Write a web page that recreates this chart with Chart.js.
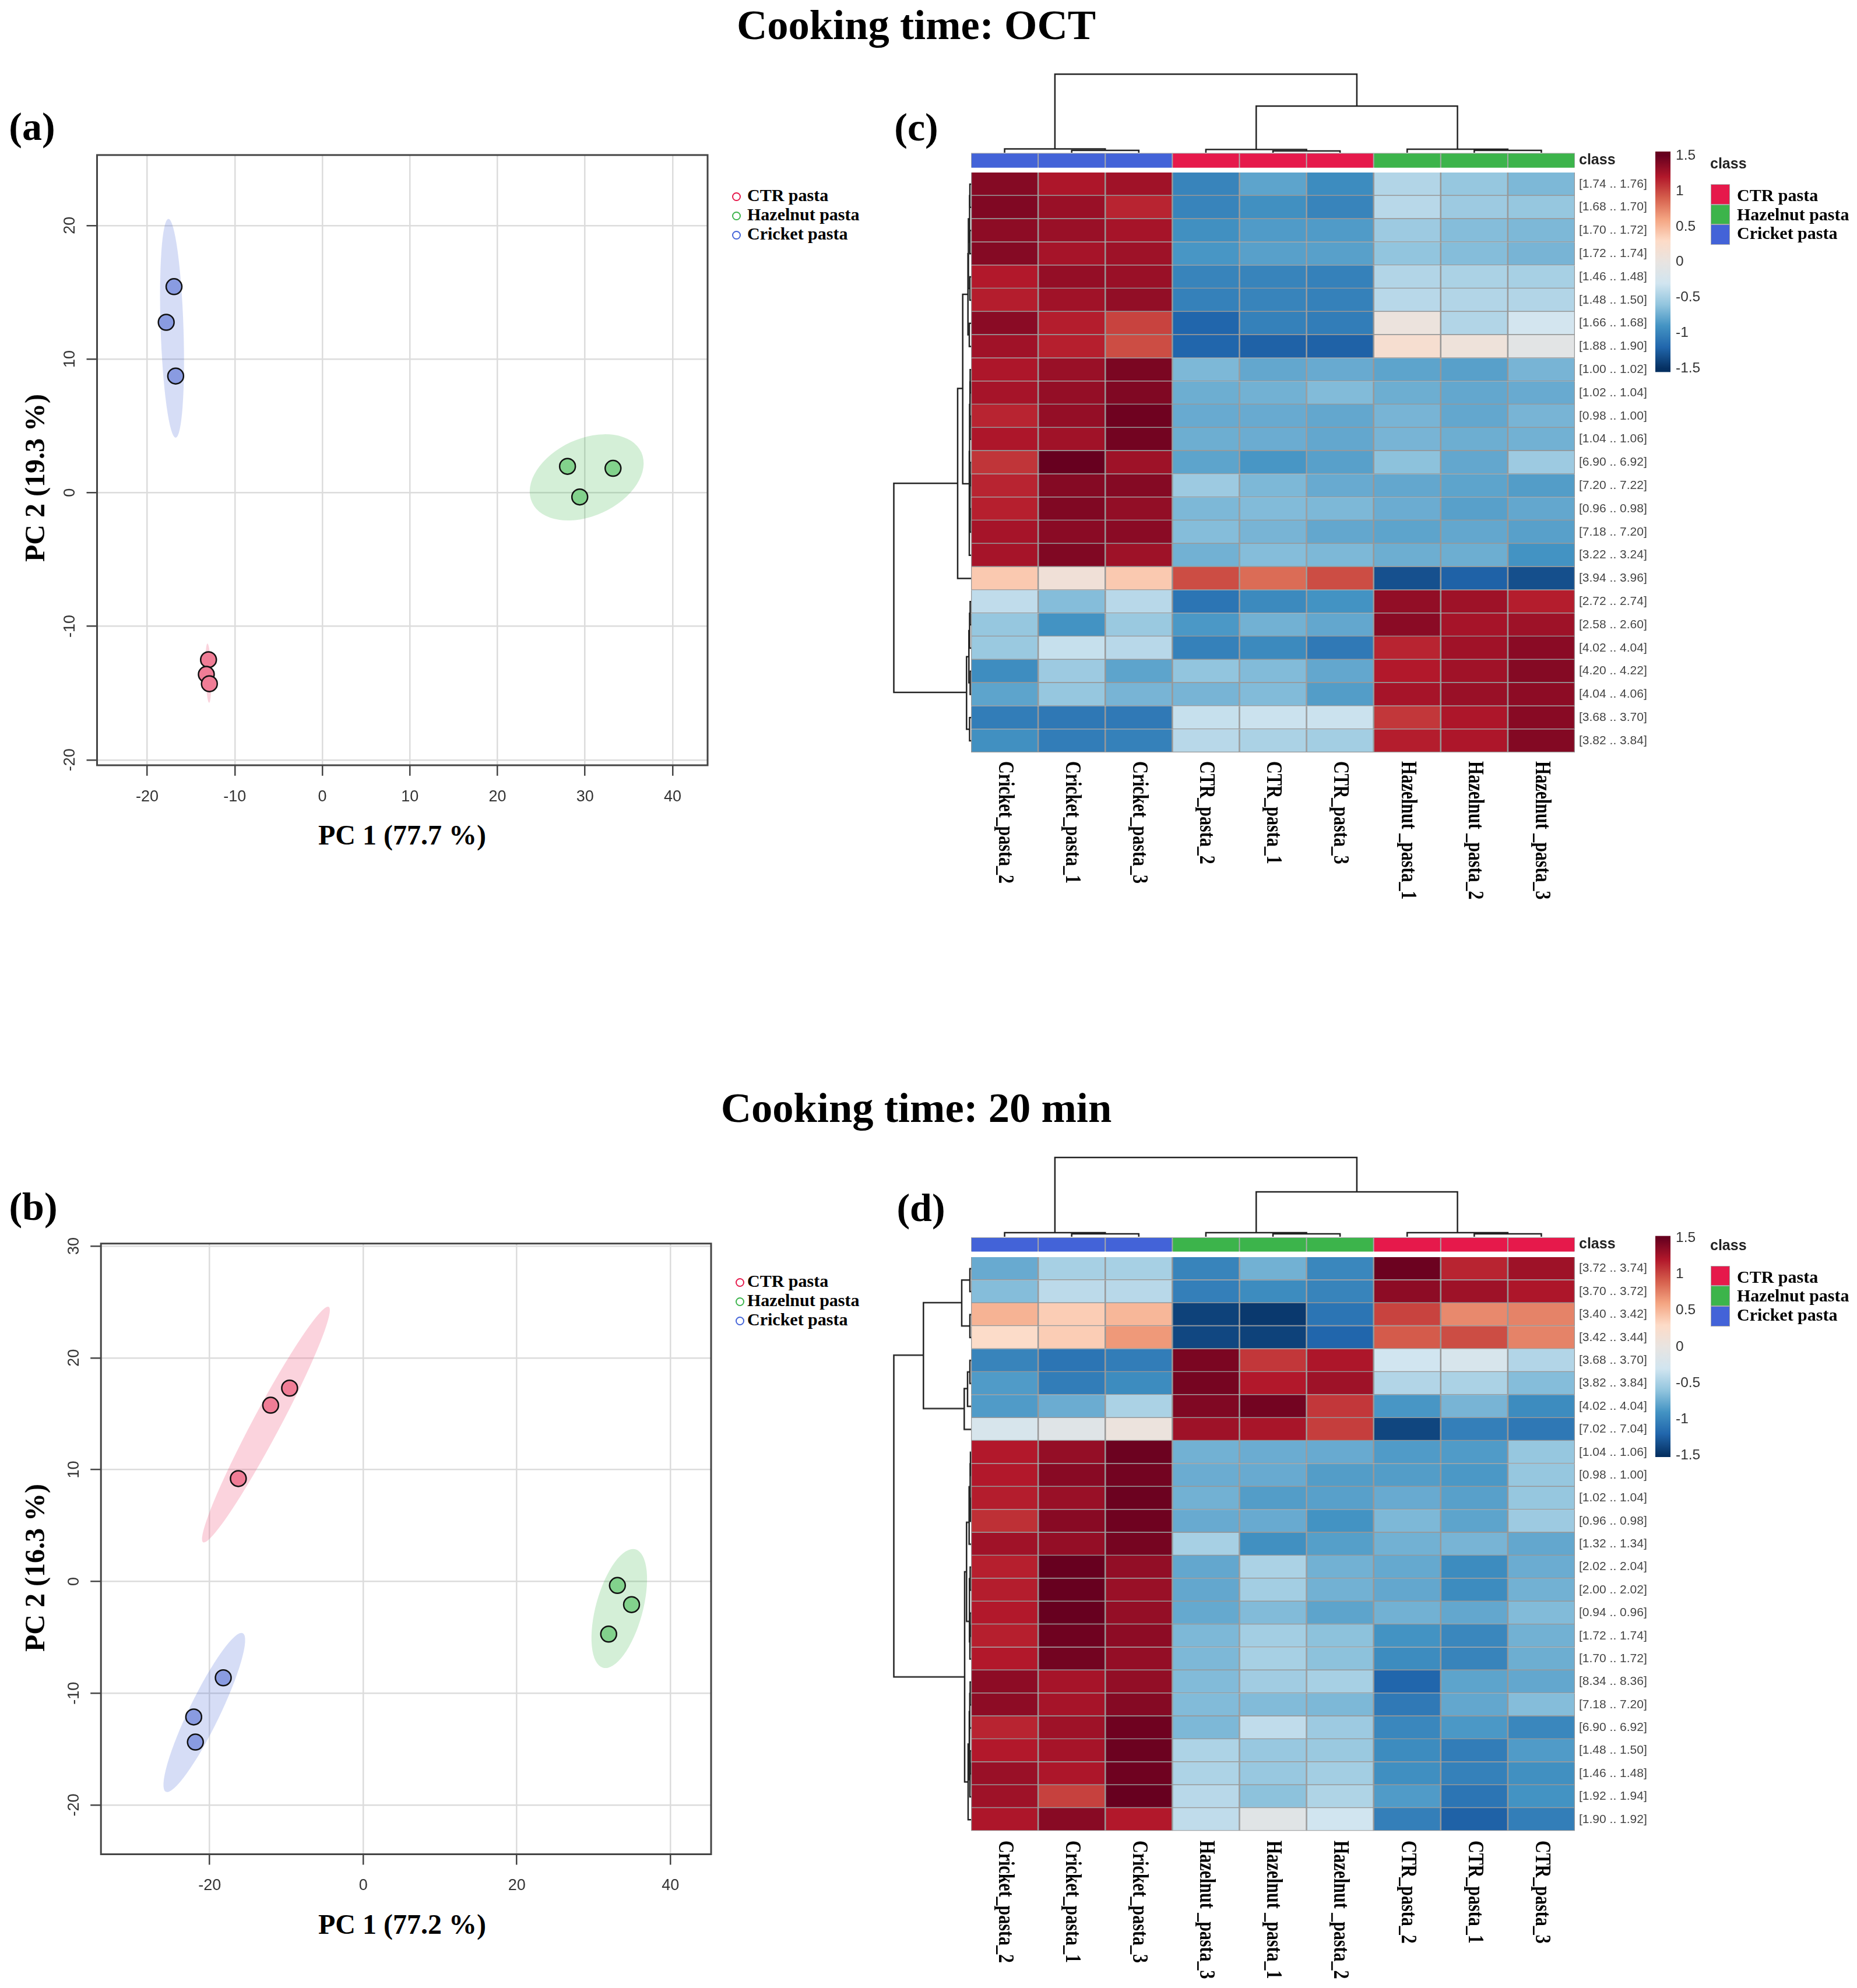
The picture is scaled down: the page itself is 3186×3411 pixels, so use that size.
<!DOCTYPE html>
<html>
<head>
<meta charset="utf-8">
<title>Cooking time heatmaps and PCA</title>
<script src="https://cdn.jsdelivr.net/npm/chart.js@4"></script>
<style>
  html, body { margin: 0; padding: 0; background: #fff; }
  body { position: relative; width: 3186px; height: 3411px; overflow: hidden; }
  canvas { position: absolute; }
  .t { position: absolute; white-space: nowrap; color: #000; font-family: "Liberation Serif", serif; font-weight: bold; line-height: 1; }
  .mid { transform: translate(-50%, -50%); }
  .left { transform: translateY(-50%); }
  .rot { transform: translate(-50%, -50%) rotate(-90deg); }
  .swatch { position: absolute; }
  .ring { position: absolute; border-radius: 50%; box-sizing: border-box; border-width: 2.5px; border-style: solid; background: #fff; }
</style>
</head>
<body>
<script>
// PCA scores, panel a (OCT)
const aCtr = [[-13.0, -12.5], [-13.25, -13.6], [-12.9, -14.3]];
const aHaz = [[28.0, 1.97], [33.2, 1.82], [29.4, -0.32]];
const aCri = [[-16.94, 15.42], [-17.83, 12.75], [-16.75, 8.73]];
// ellipses: major axis end, other major axis end, minor axis end
const aCtrEll = [-13.12, -11.29, -12.93, -15.72, -12.7, -13.5];
const aHazEll = [36.43, 3.02, 23.95, -0.73, 32.36, -1.37];
const aCriEll = [-17.58, 20.49, -16.75, 4.11, -15.86, 12.3];
const aXTicks = [-20, -10, 0, 10, 20, 30, 40];
const aYTicks = [-20, -10, 0, 10, 20];

// PCA scores, panel b (20 min)
const bCtr = [[-9.59, 17.29], [-12.06, 15.76], [-16.27, 9.2]];
const bHaz = [[33.1, -0.36], [34.94, -2.07], [31.96, -4.71]];
const bCri = [[-18.23, -8.62], [-22.08, -12.12], [-21.86, -14.37]];
const bCtrEll = [-4.5, 24.56, -20.85, 3.5, -11.04, 13.56];
const bHazEll = [35.45, 2.87, 31.23, -7.72, 36.32, -2.87];
const bCriEll = [-15.69, -4.63, -25.71, -18.81, -18.84, -12.21];
const bXTicks = [-20, 0, 20, 40];
const bYTicks = [-20, -10, 0, 10, 20, 30];

const groupNames = ['CTR pasta', 'Hazelnut pasta', 'Cricket pasta'];

// heatmap c
const cCols = ['Cricket_pasta_2', 'Cricket_pasta_1', 'Cricket_pasta_3', 'CTR_pasta_2', 'CTR_pasta_1', 'CTR_pasta_3', 'Hazelnut _pasta_1', 'Hazelnut _pasta_2', 'Hazelnut _pasta_3'];
const cClasses = [2, 2, 2, 0, 0, 0, 1, 1, 1];
const cRows = ['[1.74 .. 1.76]', '[1.68 .. 1.70]', '[1.70 .. 1.72]', '[1.72 .. 1.74]', '[1.46 .. 1.48]', '[1.48 .. 1.50]', '[1.66 .. 1.68]', '[1.88 .. 1.90]', '[1.00 .. 1.02]', '[1.02 .. 1.04]', '[0.98 .. 1.00]', '[1.04 .. 1.06]', '[6.90 .. 6.92]', '[7.20 .. 7.22]', '[0.96 .. 0.98]', '[7.18 .. 7.20]', '[3.22 .. 3.24]', '[3.94 .. 3.96]', '[2.72 .. 2.74]', '[2.58 .. 2.60]', '[4.02 .. 4.04]', '[4.20 .. 4.22]', '[4.04 .. 4.06]', '[3.68 .. 3.70]', '[3.82 .. 3.84]'];
const cValues = [
  [1.38, 1.22, 1.27, -1.0, -0.8, -0.95, -0.45, -0.58, -0.68],
  [1.40, 1.30, 1.15, -1.0, -0.92, -1.0, -0.42, -0.55, -0.58],
  [1.35, 1.30, 1.25, -0.92, -0.85, -0.85, -0.55, -0.65, -0.68],
  [1.38, 1.25, 1.28, -0.88, -0.82, -0.82, -0.6, -0.65, -0.7],
  [1.2, 1.32, 1.3, -1.0, -1.0, -1.02, -0.45, -0.48, -0.5],
  [1.18, 1.27, 1.33, -1.02, -1.0, -1.02, -0.42, -0.45, -0.45],
  [1.36, 1.18, 1.02, -1.2, -1.02, -1.05, 0.05, -0.45, -0.28],
  [1.27, 1.17, 0.98, -1.2, -1.22, -1.22, 0.2, 0.08, -0.08],
  [1.22, 1.3, 1.42, -0.68, -0.78, -0.76, -0.8, -0.82, -0.7],
  [1.25, 1.32, 1.4, -0.74, -0.72, -0.66, -0.74, -0.78, -0.76],
  [1.15, 1.32, 1.47, -0.76, -0.76, -0.78, -0.7, -0.78, -0.7],
  [1.22, 1.27, 1.45, -0.74, -0.75, -0.78, -0.7, -0.74, -0.72],
  [1.08, 1.5, 1.28, -0.8, -0.88, -0.82, -0.62, -0.78, -0.55],
  [1.15, 1.38, 1.38, -0.55, -0.68, -0.76, -0.78, -0.8, -0.84],
  [1.17, 1.4, 1.33, -0.68, -0.66, -0.68, -0.75, -0.82, -0.78],
  [1.25, 1.36, 1.36, -0.65, -0.7, -0.78, -0.8, -0.78, -0.82],
  [1.25, 1.4, 1.28, -0.72, -0.65, -0.68, -0.74, -0.74, -0.9],
  [0.4, 0.12, 0.4, 0.98, 0.85, 0.98, -1.32, -1.22, -1.33],
  [-0.38, -0.65, -0.42, -1.1, -0.96, -0.9, 1.33, 1.28, 1.18],
  [-0.58, -0.9, -0.56, -0.87, -0.72, -0.78, 1.36, 1.25, 1.28],
  [-0.56, -0.35, -0.42, -1.02, -0.96, -1.07, 1.15, 1.27, 1.36],
  [-0.94, -0.55, -0.8, -0.6, -0.66, -0.78, 1.2, 1.27, 1.38],
  [-0.8, -0.58, -0.7, -0.7, -0.66, -0.84, 1.25, 1.3, 1.35],
  [-1.05, -1.08, -1.07, -0.35, -0.33, -0.33, 1.07, 1.22, 1.37],
  [-0.92, -1.05, -1.02, -0.42, -0.48, -0.52, 1.18, 1.22, 1.39]
];
// dendrogram merges: pos1, height1, pos2, height2, merge height
const cTopMerges = [[1.5, 0, 2.5, 0, 4], [0.5, 0, 2, 4, 6.5], [4.5, 0, 5.5, 0, 3], [3.5, 0, 5, 3, 5.5], [7.5, 0, 8.5, 0, 4], [6.5, 0, 8, 4, 6], [4.25, 5.5, 7.25, 6, 80], [1.25, 6.5, 5.75, 80, 134.7]];
const cLeftMerges = [
  [0.5, 0, 1.5, 0, 2], [2.5, 0, 3.5, 0, 2], [1, 2, 3, 2, 2.5], [4.5, 0, 5.5, 0, 2], [2, 2.5, 5, 2, 4.5], [6.5, 0, 7.5, 0, 3], [3.5, 4.5, 7, 3, 5.3],
  [8.5, 0, 9.5, 0, 1.5], [10.5, 0, 11.5, 0, 1.5], [9, 1.5, 11, 1.5, 2], [12.5, 0, 13.5, 0, 1.5], [14.5, 0, 15.5, 0, 1.5], [13, 1.5, 15, 1.5, 2], [10, 2, 14, 2, 2.5], [12, 2.5, 16.5, 0, 3],
  [5.25, 5.3, 13.42, 3, 14.3], [9.31, 14.3, 17.5, 0, 23],
  [18.5, 0, 19.5, 0, 1.5], [19, 1.5, 20.5, 0, 2.5], [21.5, 0, 22.5, 0, 1.5], [19.75, 2.5, 22, 1.5, 3.7], [23.5, 0, 24.5, 0, 2.5], [20.87, 3.7, 24, 2.5, 7.7],
  [13.4, 23, 22.41, 7.7, 132.5]
];

// heatmap d
const dCols = ['Cricket_pasta_2', 'Cricket_pasta_1', 'Cricket_pasta_3', 'Hazelnut _pasta_3', 'Hazelnut _pasta_1', 'Hazelnut _pasta_2', 'CTR_pasta_2', 'CTR_pasta_1', 'CTR_pasta_3'];
const dClasses = [2, 2, 2, 1, 1, 1, 0, 0, 0];
const dRows = ['[3.72 .. 3.74]', '[3.70 .. 3.72]', '[3.40 .. 3.42]', '[3.42 .. 3.44]', '[3.68 .. 3.70]', '[3.82 .. 3.84]', '[4.02 .. 4.04]', '[7.02 .. 7.04]', '[1.04 .. 1.06]', '[0.98 .. 1.00]', '[1.02 .. 1.04]', '[0.96 .. 0.98]', '[1.32 .. 1.34]', '[2.02 .. 2.04]', '[2.00 .. 2.02]', '[0.94 .. 0.96]', '[1.72 .. 1.74]', '[1.70 .. 1.72]', '[8.34 .. 8.36]', '[7.18 .. 7.20]', '[6.90 .. 6.92]', '[1.48 .. 1.50]', '[1.46 .. 1.48]', '[1.92 .. 1.94]', '[1.90 .. 1.92]'];
const dValues = [
  [-0.76, -0.5, -0.5, -1.0, -0.72, -0.98, 1.48, 1.15, 1.28],
  [-0.65, -0.4, -0.42, -1.03, -0.95, -1.0, 1.35, 1.28, 1.22],
  [0.52, 0.38, 0.5, -1.4, -1.45, -1.1, 1.02, 0.72, 0.75],
  [0.28, 0.38, 0.65, -1.37, -1.4, -1.2, 0.92, 0.98, 0.75],
  [-1.0, -1.1, -1.05, 1.42, 1.07, 1.22, -0.3, -0.22, -0.45],
  [-0.85, -1.05, -0.95, 1.44, 1.2, 1.28, -0.45, -0.48, -0.65],
  [-0.85, -0.75, -0.48, 1.4, 1.45, 1.07, -0.88, -0.7, -0.95],
  [-0.22, -0.12, 0.05, 1.28, 1.24, 1.04, -1.38, -1.03, -1.08],
  [1.2, 1.32, 1.48, -0.72, -0.75, -0.76, -0.85, -0.85, -0.58],
  [1.2, 1.37, 1.45, -0.75, -0.76, -0.84, -0.84, -0.87, -0.58],
  [1.18, 1.3, 1.48, -0.72, -0.84, -0.82, -0.76, -0.82, -0.58],
  [1.1, 1.37, 1.47, -0.76, -0.76, -0.9, -0.68, -0.8, -0.55],
  [1.27, 1.32, 1.44, -0.5, -0.92, -0.83, -0.72, -0.7, -0.78],
  [1.17, 1.5, 1.33, -0.78, -0.48, -0.72, -0.77, -0.95, -0.75],
  [1.18, 1.5, 1.3, -0.78, -0.52, -0.72, -0.78, -0.95, -0.72],
  [1.2, 1.5, 1.32, -0.77, -0.66, -0.8, -0.72, -0.78, -0.66],
  [1.17, 1.47, 1.35, -0.68, -0.52, -0.62, -0.9, -0.98, -0.72],
  [1.2, 1.45, 1.32, -0.68, -0.5, -0.62, -0.95, -1.0, -0.74],
  [1.35, 1.25, 1.33, -0.66, -0.53, -0.5, -1.2, -0.8, -0.78],
  [1.35, 1.25, 1.38, -0.66, -0.66, -0.68, -1.07, -0.78, -0.65],
  [1.15, 1.28, 1.47, -0.68, -0.38, -0.55, -0.98, -0.87, -0.98],
  [1.2, 1.25, 1.48, -0.47, -0.57, -0.56, -0.95, -1.05, -0.85],
  [1.3, 1.22, 1.47, -0.47, -0.57, -0.52, -0.93, -1.02, -0.92],
  [1.28, 1.03, 1.5, -0.42, -0.62, -0.46, -0.85, -1.1, -0.9],
  [1.22, 1.37, 1.2, -0.38, -0.1, -0.3, -1.03, -1.22, -1.04]
];
const dTopMerges = [[1.5, 0, 2.5, 0, 5], [0.5, 0, 2, 5, 7], [4.5, 0, 5.5, 0, 5], [3.5, 0, 5, 5, 7], [7.5, 0, 8.5, 0, 5], [6.5, 0, 8, 5, 7], [4.25, 7, 7.25, 7, 77], [1.25, 7, 5.75, 77, 136]];
const dLeftMerges = [
  [0.5, 0, 1.5, 0, 2], [2.5, 0, 3.5, 0, 2], [1, 2, 3, 2, 16], [4.5, 0, 5.5, 0, 2], [5, 2, 6.5, 0, 6], [5.72, 6, 7.5, 0, 11.7], [1.98, 16, 6.59, 11.7, 81.7],
  [8.5, 0, 9.5, 0, 1], [10.5, 0, 11.5, 0, 1], [9, 1, 11, 1, 1.5], [10, 1.5, 12.5, 0, 3.3],
  [13.5, 0, 14.5, 0, 1.5], [15.5, 0, 16.5, 0, 1.5], [16, 1.5, 17.5, 0, 2], [14, 1.5, 16.75, 2, 2.7], [11.55, 3.3, 15.86, 2.7, 7.7],
  [18.5, 0, 19.5, 0, 1.5], [19, 1.5, 20.5, 0, 2.2], [21.5, 0, 22.5, 0, 1.5], [22, 1.5, 23.5, 0, 2], [19.76, 2.2, 22.75, 2, 3], [21.2, 3, 24.5, 0, 5],
  [13.7, 7.7, 22.85, 5, 11], [4.27, 81.7, 18.28, 11, 132.5]
];

const colorbarTicks = [1.5, 1, 0.5, 0, -0.5, -1, -1.5];

// colours
const classColors = ['#e6194b', '#3cb44b', '#4363d8'];
const pointColors = ['#f07d96', '#82d28c', '#899be1'];
const ellipseColors = ['rgba(240,80,120,0.25)', 'rgba(60,180,75,0.22)', 'rgba(67,99,216,0.22)'];
const rdbu = ['#053061', '#2166ac', '#4393c3', '#92c5de', '#d1e5f0', '#e8e4e1', '#fddbc7', '#f4a582', '#d6604d', '#b2182b', '#67001f'];

const SERIF = '"Liberation Serif", serif';
const SANS = '"Liberation Sans", sans-serif';

function hexToRgb(h) {
  return [parseInt(h.slice(1, 3), 16), parseInt(h.slice(3, 5), 16), parseInt(h.slice(5, 7), 16)];
}

// value in -1.5..1.5 to a colour on the RdBu ramp
function heatColor(v) {
  const p = Math.max(0, Math.min(1, (v + 1.5) / 3)) * (rdbu.length - 1);
  const i = Math.min(rdbu.length - 2, Math.floor(p));
  const a = hexToRgb(rdbu[i]), b = hexToRgb(rdbu[i + 1]), f = p - i;
  return 'rgb(' + a.map((c, k) => Math.round(c + (b[k] - c) * f)).join(',') + ')';
}

function addCanvas(x, y, w, h) {
  const c = document.createElement('canvas');
  c.width = w;
  c.height = h;
  c.style.left = x + 'px';
  c.style.top = y + 'px';
  c.style.width = w + 'px';
  c.style.height = h + 'px';
  document.body.appendChild(c);
  return c.getContext('2d');
}

function addText(text, x, y, size, cls, extra) {
  const d = document.createElement('div');
  d.className = 't ' + cls;
  d.textContent = text;
  d.style.left = x + 'px';
  d.style.top = y + 'px';
  d.style.fontSize = size + 'px';
  if (extra) Object.assign(d.style, extra);
  document.body.appendChild(d);
}

Chart.defaults.animation = false;
Chart.defaults.responsive = false;
Chart.defaults.devicePixelRatio = 1;
Chart.defaults.plugins.legend.display = false;
Chart.defaults.plugins.tooltip.enabled = false;

// ellipses under the points, frame and turned y labels on top
const pcaDecor = {
  id: 'pcaDecor',
  beforeDatasetsDraw(chart, args, opts) {
    const ctx = chart.ctx, sx = chart.scales.x, sy = chart.scales.y;
    opts.ellipses.forEach((e, i) => {
      const x1 = sx.getPixelForValue(e[0]), y1 = sy.getPixelForValue(e[1]);
      const x2 = sx.getPixelForValue(e[2]), y2 = sy.getPixelForValue(e[3]);
      const x3 = sx.getPixelForValue(e[4]), y3 = sy.getPixelForValue(e[5]);
      const cx = (x1 + x2) / 2, cy = (y1 + y2) / 2;
      ctx.save();
      ctx.fillStyle = ellipseColors[i];
      ctx.beginPath();
      ctx.ellipse(cx, cy, Math.hypot(x1 - cx, y1 - cy), Math.hypot(x3 - cx, y3 - cy), Math.atan2(y1 - cy, x1 - cx), 0, Math.PI * 2);
      ctx.fill();
      ctx.restore();
    });
  },
  afterDraw(chart, args, opts) {
    const ctx = chart.ctx, a = chart.chartArea, sy = chart.scales.y;
    ctx.save();
    ctx.strokeStyle = '#444';
    ctx.lineWidth = 3;
    ctx.strokeRect(a.left, a.top, a.right - a.left, a.bottom - a.top);
    ctx.fillStyle = '#333';
    ctx.font = '27px ' + SANS;
    ctx.textAlign = 'center';
    ctx.textBaseline = 'middle';
    opts.yTicks.forEach(v => {
      ctx.save();
      ctx.translate(opts.yLabelX, sy.getPixelForValue(v));
      ctx.rotate(-Math.PI / 2);
      ctx.fillText(String(v), 0, 0);
      ctx.restore();
    });
    ctx.restore();
  }
};

function pcaChart(box, plot, groups, ellipses, xTicks, yTicks, xRange, yRange, yLabelX) {
  const ctx = addCanvas(box.x, box.y, box.w, box.h);
  new Chart(ctx, {
    type: 'scatter',
    data: {
      datasets: groups.map((g, i) => ({
        label: groupNames[i],
        data: g.map(p => ({ x: p[0], y: p[1] })),
        backgroundColor: pointColors[i],
        borderColor: '#111',
        borderWidth: 2.5,
        pointRadius: 13.5
      }))
    },
    options: {
      layout: { padding: { top: plot.t - box.y, right: box.x + box.w - plot.r, left: 0, bottom: 0 } },
      scales: {
        x: {
          type: 'linear', min: xRange[0], max: xRange[1],
          afterBuildTicks: ax => { ax.ticks = xTicks.map(v => ({ value: v })); },
          afterFit: s => { s.height = box.y + box.h - plot.b; },
          grid: { color: '#dcdcdc', lineWidth: 2.5, tickLength: 18, tickColor: '#444', tickWidth: 2.5 },
          border: { display: false },
          ticks: { color: '#333', font: { family: SANS, size: 27 }, padding: 20, maxRotation: 0, autoSkip: false, callback: v => String(v) }
        },
        y: {
          type: 'linear', min: yRange[0], max: yRange[1],
          afterBuildTicks: ax => { ax.ticks = yTicks.map(v => ({ value: v })); },
          afterFit: s => { s.width = plot.l - box.x; },
          grid: { color: '#dcdcdc', lineWidth: 2.5, tickLength: 18, tickColor: '#444', tickWidth: 2.5 },
          border: { display: false },
          ticks: { display: false }
        }
      },
      plugins: { pcaDecor: { ellipses: ellipses, yTicks: yTicks, yLabelX: yLabelX } }
    },
    plugins: [pcaDecor]
  });
}

// sample names turned 90 degrees under the heatmap, a bit stretched across like the original
const colLabels = {
  id: 'colLabels',
  afterDraw(chart, args, opts) {
    const ctx = chart.ctx, sx = chart.scales.x;
    ctx.save();
    ctx.fillStyle = '#000';
    ctx.font = 'bold 30px ' + SERIF;
    ctx.textAlign = 'left';
    ctx.textBaseline = 'middle';
    opts.names.forEach((l, i) => {
      ctx.save();
      ctx.translate(sx.getPixelForValue(i), opts.y);
      ctx.rotate(Math.PI / 2);
      ctx.scale(1, 1.25);
      ctx.fillText(l, 0, 0);
      ctx.restore();
    });
    ctx.restore();
  }
};

function heatmapChart(box, plot, cols, rows, values, classes, classBand, labelY) {
  const ctx = addCanvas(box.x, box.y, box.w, box.h);
  const rowH = (plot.b - plot.heatTop) / rows.length;
  const yMin = (plot.t - plot.heatTop) / rowH;
  const datasets = rows.map((r, i) => ({
    label: r,
    data: cols.map(() => [i, i + 1]),
    backgroundColor: values[i].map(heatColor),
    borderColor: '#989898',
    borderWidth: 1.6,
    grouped: false,
    barPercentage: 1,
    categoryPercentage: 1
  }));
  datasets.push({
    label: 'class',
    data: cols.map(() => classBand),
    backgroundColor: classes.map(k => classColors[k]),
    borderColor: '#a8a8a8',
    borderWidth: 1.3,
    grouped: false,
    barPercentage: 1,
    categoryPercentage: 1
  });
  const classMid = (classBand[0] + classBand[1]) / 2;
  const isClass = c => !!c.tick && c.tick.value < 0;
  new Chart(ctx, {
    type: 'bar',
    data: { labels: cols, datasets: datasets },
    options: {
      layout: { padding: { top: plot.t - box.y, left: plot.l - box.x, right: 0, bottom: box.y + box.h - plot.b } },
      scales: {
        x: { type: 'category', display: false },
        y: {
          type: 'linear', position: 'right', reverse: true, min: yMin, max: rows.length,
          afterBuildTicks: ax => { ax.ticks = [{ value: classMid }].concat(rows.map((r, i) => ({ value: i + 0.5 }))); },
          afterFit: s => { s.width = box.x + box.w - plot.r; s.paddingTop = 0; s.paddingBottom = 0; },
          grid: { display: false, drawTicks: false },
          border: { display: false },
          ticks: {
            autoSkip: false,
            padding: 7,
            color: c => (isClass(c) ? '#222' : '#444'),
            font: c => (isClass(c) ? { family: SANS, size: 25, weight: 'bold' } : { family: SANS, size: 21 }),
            callback: v => (v < 0 ? 'class' : rows[Math.floor(v)])
          }
        }
      },
      plugins: { colLabels: { names: cols, y: labelY - box.y } }
    },
    plugins: [colLabels]
  });
}

function mergesToDatasets(merges, horizontal) {
  return merges.map(m => {
    const pts = [[m[0], m[1]], [m[0], m[4]], [m[2], m[4]], [m[2], m[3]]];
    return {
      data: pts.map(p => (horizontal ? { x: p[1], y: p[0] } : { x: p[0], y: p[1] })),
      showLine: true,
      pointRadius: 0,
      borderColor: '#222',
      borderWidth: 2.5,
      tension: 0,
      clip: false
    };
  });
}

function topDendro(box, merges, n, maxH) {
  new Chart(addCanvas(box.x, box.y, box.w, box.h), {
    type: 'scatter',
    data: { datasets: mergesToDatasets(merges, false) },
    options: {
      scales: {
        x: { type: 'linear', display: false, min: 0, max: n },
        y: { type: 'linear', display: false, min: 0, max: maxH }
      }
    }
  });
}

function leftDendro(box, merges, n, maxH) {
  new Chart(addCanvas(box.x, box.y, box.w, box.h), {
    type: 'scatter',
    data: { datasets: mergesToDatasets(merges, true) },
    options: {
      scales: {
        x: { type: 'linear', display: false, reverse: true, min: 0, max: maxH },
        y: { type: 'linear', display: false, reverse: true, min: 0, max: n }
      }
    }
  });
}

function colorbar(box, plot, yRange) {
  new Chart(addCanvas(box.x, box.y, box.w, box.h), {
    type: 'bar',
    data: {
      labels: ['scale'],
      datasets: [{
        data: [yRange],
        barPercentage: 1,
        categoryPercentage: 1,
        backgroundColor: c => {
          const ch = c.chart;
          if (!ch.chartArea) return '#888';
          const sy = ch.scales.y;
          const g = ch.ctx.createLinearGradient(0, sy.getPixelForValue(-1.5), 0, sy.getPixelForValue(1.5));
          rdbu.forEach((col, i) => g.addColorStop(i / (rdbu.length - 1), col));
          return g;
        }
      }]
    },
    options: {
      layout: { padding: { top: plot.t - box.y, bottom: box.y + box.h - plot.b, left: 0, right: 0 } },
      scales: {
        x: { type: 'category', display: false },
        y: {
          type: 'linear', position: 'right', min: yRange[0], max: yRange[1],
          afterBuildTicks: ax => { ax.ticks = colorbarTicks.map(v => ({ value: v })); },
          afterFit: s => { s.width = box.w - plot.w; s.paddingTop = 0; s.paddingBottom = 0; },
          grid: { display: false, drawTicks: false },
          border: { display: false },
          ticks: { autoSkip: false, padding: 9, color: '#333', font: { family: SANS, size: 24.5 }, callback: v => String(v) }
        }
      }
    }
  });
}

function heatLegend(titleY, top) {
  const t = document.createElement('div');
  t.className = 't left';
  t.textContent = 'class';
  Object.assign(t.style, { left: '2934px', top: titleY + 'px', fontSize: '25px', fontFamily: SANS, color: '#222' });
  document.body.appendChild(t);
  groupNames.forEach((g, i) => {
    const s = document.createElement('div');
    s.className = 'swatch';
    Object.assign(s.style, { left: '2935px', top: (top + i * 34.7) + 'px', width: '33px', height: '34.7px', background: classColors[i], boxSizing: 'border-box', border: '1.5px solid #a8a8a8' });
    document.body.appendChild(s);
    addText(g, 2980, top + 19 + i * 32.5, 30, 'left');
  });
}

function pcaLegend(ringX, ys) {
  groupNames.forEach((g, i) => {
    const r = document.createElement('div');
    r.className = 'ring';
    Object.assign(r.style, { left: (ringX - 7) + 'px', top: (ys[i] - 5) + 'px', width: '15px', height: '15px', borderColor: classColors[i] });
    document.body.appendChild(r);
    addText(g, 1282, ys[i], 30, 'left');
  });
}

// headings and panel letters
addText('Cooking time: OCT', 1572, 43, 72.5, 'mid');
addText('Cooking time: 20 min', 1572, 1901, 72.5, 'mid');
addText('(a)', 55, 217, 68, 'mid');
addText('(b)', 57, 2070, 68, 'mid');
addText('(c)', 1572, 218, 68, 'mid');
addText('(d)', 1580, 2072, 68, 'mid');

// PCA panels
pcaChart({ x: 0, y: 250, w: 1230, h: 1150 }, { l: 166.5, t: 266, r: 1214, b: 1313 },
  [aCtr, aHaz, aCri], [aCtrEll, aHazEll, aCriEll], aXTicks, aYTicks, [-25.73, 44], [-20.4, 25.27], 121);
addText('PC 1 (77.7 %)', 690, 1433, 48, 'mid');
addText('PC 2 (19.3 %)', 60, 820, 48, 'rot');
pcaLegend(1263, [335, 368, 400.5]);

pcaChart({ x: 0, y: 2115, w: 1236, h: 1155 }, { l: 173.2, t: 2133.7, r: 1220, b: 3181.5 },
  [bCtr, bHaz, bCri], [bCtrEll, bHazEll, bCriEll], bXTicks, bYTicks, [-34.16, 45.3], [-24.4, 30.22], 128);
addText('PC 1 (77.2 %)', 690, 3302, 48, 'mid');
addText('PC 2 (16.3 %)', 60, 2690, 48, 'rot');
pcaLegend(1269, [2198, 2231, 2264]);

// heatmap c
heatmapChart({ x: 1660, y: 250, w: 1170, h: 1300 }, { l: 1666, t: 260.2, r: 2702, b: 1291, heatTop: 296 },
  cCols, cRows, cValues, cClasses, [-0.84, -0.21], 1306);
topDendro({ x: 1666, y: 122, w: 1036, h: 140 }, cTopMerges, 9, 140);
leftDendro({ x: 1528, y: 296, w: 138, h: 995 }, cLeftMerges, 25, 138);
colorbar({ x: 2840, y: 240, w: 100, h: 420 }, { t: 260, b: 638.5, w: 26 }, [-1.55, 1.557]);
heatLegend(280, 316);

// heatmap d
heatmapChart({ x: 1660, y: 2110, w: 1170, h: 1295 }, { l: 1666, t: 2121.5, r: 2702, b: 3141.5, heatTop: 2157 },
  dCols, dRows, dValues, dClasses, [-0.86, -0.24], 3158);
topDendro({ x: 1666, y: 1980, w: 1036, h: 142 }, dTopMerges, 9, 142);
leftDendro({ x: 1528, y: 2157, w: 138, h: 984.5 }, dLeftMerges, 25, 138);
colorbar({ x: 2840, y: 2100, w: 100, h: 420 }, { t: 2120.5, b: 2500, w: 26 }, [-1.52, 1.53]);
heatLegend(2136, 2171.5);
</script>
</body>
</html>
